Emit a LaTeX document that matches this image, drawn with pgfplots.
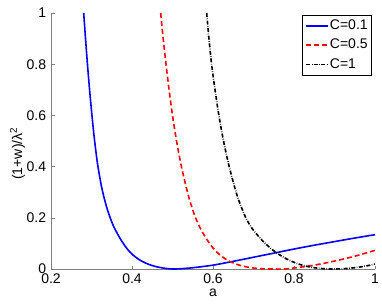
\documentclass[border=0pt]{standalone}
\usepackage{fontspec}
\setmainfont{Liberation Sans}
\usepackage{pgfplots}
\pgfplotsset{compat=1.18}
\newcommand\fs{\fontsize{14bp}{16bp}\selectfont}
\begin{document}
\fs
\begin{tikzpicture}
\begin{axis}[
  scale only axis, width=324bp, height=256bp,
  xmin=0.2, xmax=1, ymin=0, ymax=1,
  axis x line*=bottom, axis y line*=left,
  axis line style={-, draw=gray, line width=0.6bp},
  tick align=inside,
  major tick length=3.5bp,
  every tick/.style={gray, line width=0.6bp},
  xtick={0.2,0.4,0.6,0.8,1}, xticklabels={0.2,0.4,0.6,0.8,1},
  ytick={0,0.2,0.4,0.6,0.8,1}, yticklabels={0,0.2,0.4,0.6,0.8,1},
  every tick label/.append style={font=\fs, text=black},
  xlabel={a}, ylabel={(1+w)/λ\textsuperscript{2}},
  xlabel style={font=\fs, at={(axis description cs:0.5,-0.0949)}, anchor=center},
  ylabel style={font=\fs, at={(axis description cs:-0.1034,0.451)}, anchor=center, rotate=0},
  legend style={at={(axis description cs:0.9907,0.9922)}, anchor=north east,
    draw=black, line width=0.6bp, fill=white, font=\fs,
    inner xsep=3bp, inner ysep=3.5bp, row sep=5.5bp,
    nodes={inner sep=1bp}},
  legend cell align=left,
  legend image code/.code={\draw[#1] (0bp,0bp) -- (22bp,0bp);},
]
\addplot[blue, line width=1.6bp, smooth] coordinates {
(0.2807,1.000) (0.285,0.905) (0.290,0.800) (0.295,0.705) (0.3005,0.610) (0.307,0.510)
(0.315,0.410) (0.325,0.320) (0.335,0.255) (0.345,0.205) (0.355,0.165) (0.365,0.135)
(0.375,0.108) (0.385,0.085) (0.395,0.066) (0.410,0.045) (0.425,0.030) (0.440,0.019)
(0.460,0.009) (0.480,0.003) (0.500,0.000) (0.520,0.001) (0.550,0.005) (0.600,0.015)
(0.650,0.030) (0.700,0.046) (0.750,0.062) (0.800,0.078) (0.850,0.093) (0.900,0.107)
(0.950,0.121) (1.000,0.134)};
\addlegendentry{C=0.1}
\addplot[red, line width=1.6bp, dash pattern=on 5bp off 3bp, smooth] coordinates {
(0.4708,1.000) (0.477,0.900) (0.484,0.800) (0.4915,0.700) (0.500,0.600) (0.510,0.500)
(0.522,0.400) (0.537,0.300) (0.546,0.250) (0.557,0.200) (0.570,0.155) (0.585,0.115)
(0.600,0.082) (0.615,0.058) (0.630,0.040) (0.645,0.027) (0.665,0.015) (0.690,0.006)
(0.720,0.001) (0.750,0.000) (0.775,0.000) (0.800,0.004) (0.850,0.015) (0.900,0.031)
(0.950,0.050) (1.000,0.073)};
\addlegendentry{C=0.5}
\addplot[black, line width=1.6bp, dash pattern=on 4bp off 1.5bp on 0.6bp off 1.5bp, smooth] coordinates {
(0.5844,1.000) (0.590,0.900) (0.5965,0.800) (0.605,0.700) (0.6145,0.600) (0.626,0.500)
(0.640,0.400) (0.657,0.300) (0.668,0.250) (0.681,0.200) (0.695,0.162) (0.710,0.132)
(0.725,0.106) (0.740,0.084) (0.757,0.063) (0.775,0.045) (0.790,0.033) (0.810,0.020)
(0.830,0.011) (0.850,0.005) (0.870,0.0015) (0.890,0.000) (0.920,0.001) (0.950,0.005)
(0.975,0.011) (1.000,0.019)};
\addlegendentry{C=1}
\end{axis}
\pgfresetboundingbox
\path[use as bounding box] ([shift={(-51bp,-35bp)}]current axis.south west) rectangle ([shift={(7bp,13bp)}]current axis.north east);
\end{tikzpicture}
\end{document}
